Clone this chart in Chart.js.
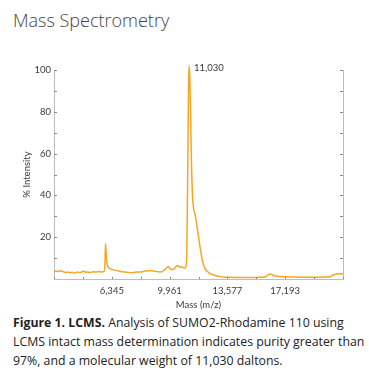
<!DOCTYPE html>
<html>
<head>
<meta charset="utf-8">
<script src="https://cdn.jsdelivr.net/npm/chart.js@4"></script>
<style>
  html, body { margin: 0; padding: 0; background: #fff; width: 369px; height: 380px; overflow: hidden; }
  #title { position: absolute; left: 13px; top: 8px; font-family: "Open Sans", sans-serif; font-weight: 300; font-size: 18px; line-height: 24px; color: #444; white-space: nowrap; }
  #wrap { position: absolute; left: 0; top: 50px; width: 369px; height: 262px; }
  #caption { position: absolute; left: 13px; top: 313px; width: 356px; font-family: "Open Sans", sans-serif; font-size: 12.3px; line-height: 19px; color: #222; white-space: nowrap; }
</style>
</head>
<body>
<div id="title">Mass Spectrometry</div>
<div id="wrap"><canvas id="c"></canvas></div>
<div id="caption"><b>Figure 1. LCMS.</b> Analysis of SUMO2-Rhodamine 110 using<br>LCMS intact mass determination indicates purity greater than<br>97%, and a molecular weight of 11,030 daltons.</div>
<script>
// Data (mass in Da, % intensity)
const massValues = [2729, 2854, 2979, 3104, 3229, 3355, 3480, 3605, 3730, 3855, 3980, 4105, 4230, 4356, 4481, 4606, 4668, 4793, 4981, 5169, 5357, 5544, 5732, 5857, 5920, 5951, 5995, 6045, 6107, 6232, 6420, 6670, 6983, 7296, 7671, 7921, 8109, 8422, 8734, 9048, 9360, 9548, 9736, 9861, 9986, 10111, 10236, 10361, 10486, 10612, 10737, 10862, 10956, 11018, 11081, 11143, 11175, 11219, 11269, 11331, 11394, 11456, 11550, 11644, 11738, 11863, 11957, 12050, 12176, 12301, 12488, 12676, 12926, 13302, 13740, 14365, 14991, 15617, 15992, 16242, 16430, 16680, 17180, 17806, 18432, 19057, 19683, 19996, 20246, 20496, 20809];
const intensityValues = [3.5, 3.8, 3.6, 4.0, 3.7, 3.3, 3.2, 3.4, 3.0, 3.2, 2.9, 3.1, 3.3, 3.0, 3.5, 3.8, 3.2, 3.4, 3.1, 3.5, 3.3, 3.6, 3.4, 3.6, 8, 17, 12, 7.5, 6, 5, 4.5, 4, 3.5, 3.2, 3.0, 3.4, 3.3, 3.8, 4.0, 3.7, 3.3, 3.8, 5.0, 6.0, 5.0, 4.5, 4.7, 6.0, 6.3, 5.6, 5.8, 5.2, 5.5, 8, 40, 90, 102, 98, 80, 55, 40, 34, 31, 27, 22, 15.5, 11, 7.6, 5, 3.8, 2.6, 2, 1.4, 1.0, 0.8, 0.7, 0.7, 0.8, 1.2, 2.4, 1.8, 1.3, 1.1, 0.9, 0.8, 0.8, 0.9, 1.1, 2.0, 2.4, 2.5];
const xTickValues = [2729, 4537, 6345, 8153, 9961, 11769, 13577, 15385, 17193, 19001, 20809];
const xTickLabels = ['', '', '6,345', '', '9,961', '', '13,577', '', '17,193', '', ''];
const yTickValues = [0, 10, 20, 30, 40, 50, 60, 70, 80, 90, 100];
const yTickLabels = ['', '', '20', '', '40', '', '60', '', '80', '', '100'];
const peakLabel = '11,030';
const xAxisTitle = 'Mass (m/z)';
const yAxisTitle = '% Intensity';

const points = massValues.map((m, i) => ({ x: m, y: intensityValues[i] }));
const axisFont = { family: 'Lato', size: 9.5 };
const textColor = '#3a3a3a';
const axisColor = '#bdbdbd';

const insideTicks = {
  id: 'insideTicks',
  afterDatasetsDraw(chart) {
    const ctx = chart.ctx;
    const a = chart.chartArea;
    const ys = chart.scales.y, xs = chart.scales.x;
    ctx.save();
    ctx.strokeStyle = '#8a8a8a';
    ctx.lineWidth = 1;
    ctx.beginPath();
    ys.ticks.forEach(t => {
      const py = Math.round(ys.getPixelForValue(t.value)) + 0.5;
      if (t.value === 0) return;
      ctx.moveTo(a.left, py); ctx.lineTo(a.left + 3, py);
      ctx.moveTo(a.right, py); ctx.lineTo(a.right - 3, py);
    });
    xs.ticks.forEach(t => {
      const px = Math.round(xs.getPixelForValue(t.value)) + 0.5;
      ctx.moveTo(px, a.bottom); ctx.lineTo(px, a.bottom - 2);
    });
    ctx.stroke();
    // peak label
    const meta = chart.getDatasetMeta(0);
    let best = 0;
    intensityValues.forEach((v, i) => { if (v > intensityValues[best]) best = i; });
    const el = meta.data[best];
    ctx.fillStyle = textColor;
    ctx.font = '9.5px Lato';
    ctx.textBaseline = 'middle';
    ctx.textAlign = 'left';
    ctx.fillText(peakLabel, el.x + 5, el.y + 2);
    ctx.restore();
  }
};

new Chart(document.getElementById('c'), {
  type: 'line',
  data: {
    datasets: [{
      data: points,
      borderColor: '#f5a623',
      borderWidth: 1.5,
      pointRadius: 0,
      fill: false,
      cubicInterpolationMode: 'monotone',
      clip: false
    }]
  },
  options: {
    responsive: true,
    maintainAspectRatio: false,
    animation: false,
    events: [],
    layout: { padding: { top: 20, right: 26, left: 0, bottom: 0 } },
    plugins: { legend: { display: false }, tooltip: { enabled: false } },
    scales: {
      x: {
        type: 'linear',
        min: xTickValues[0],
        max: xTickValues[xTickValues.length - 1],
        afterBuildTicks: s => { s.ticks = xTickValues.map(v => ({ value: v })); },
        afterFit: s => { s.height = 33; },
        grid: { drawOnChartArea: false, drawTicks: false },
        border: { display: true, color: axisColor, width: 1 },
        ticks: {
          autoSkip: false, maxRotation: 0, padding: 6,
          font: axisFont, color: textColor,
          callback: (v, i) => xTickLabels[i]
        },
        title: { display: true, text: xAxisTitle, font: axisFont, color: textColor, padding: { top: 0, bottom: 1 } }
      },
      y: {
        type: 'linear',
        min: 0, max: 100,
        afterBuildTicks: s => { s.ticks = yTickValues.map(v => ({ value: v })); },
        afterFit: s => { s.width = 54; },
        grid: { drawOnChartArea: false, drawTicks: false },
        border: { display: true, color: axisColor, width: 1 },
        ticks: {
          autoSkip: false, padding: 3,
          font: axisFont, color: textColor,
          callback: (v, i) => yTickLabels[i]
        },
        title: { display: true, text: yAxisTitle, font: axisFont, color: textColor, padding: { top: 21, bottom: 0 } }
      },
      y2: {
        type: 'linear',
        position: 'right',
        min: 0, max: 100,
        afterFit: s => { s.width = 0; },
        grid: { drawOnChartArea: false, drawTicks: false },
        border: { display: true, color: axisColor, width: 1 },
        ticks: { display: false }
      }
    }
  },
  plugins: [insideTicks]
});
</script>
</body>
</html>
